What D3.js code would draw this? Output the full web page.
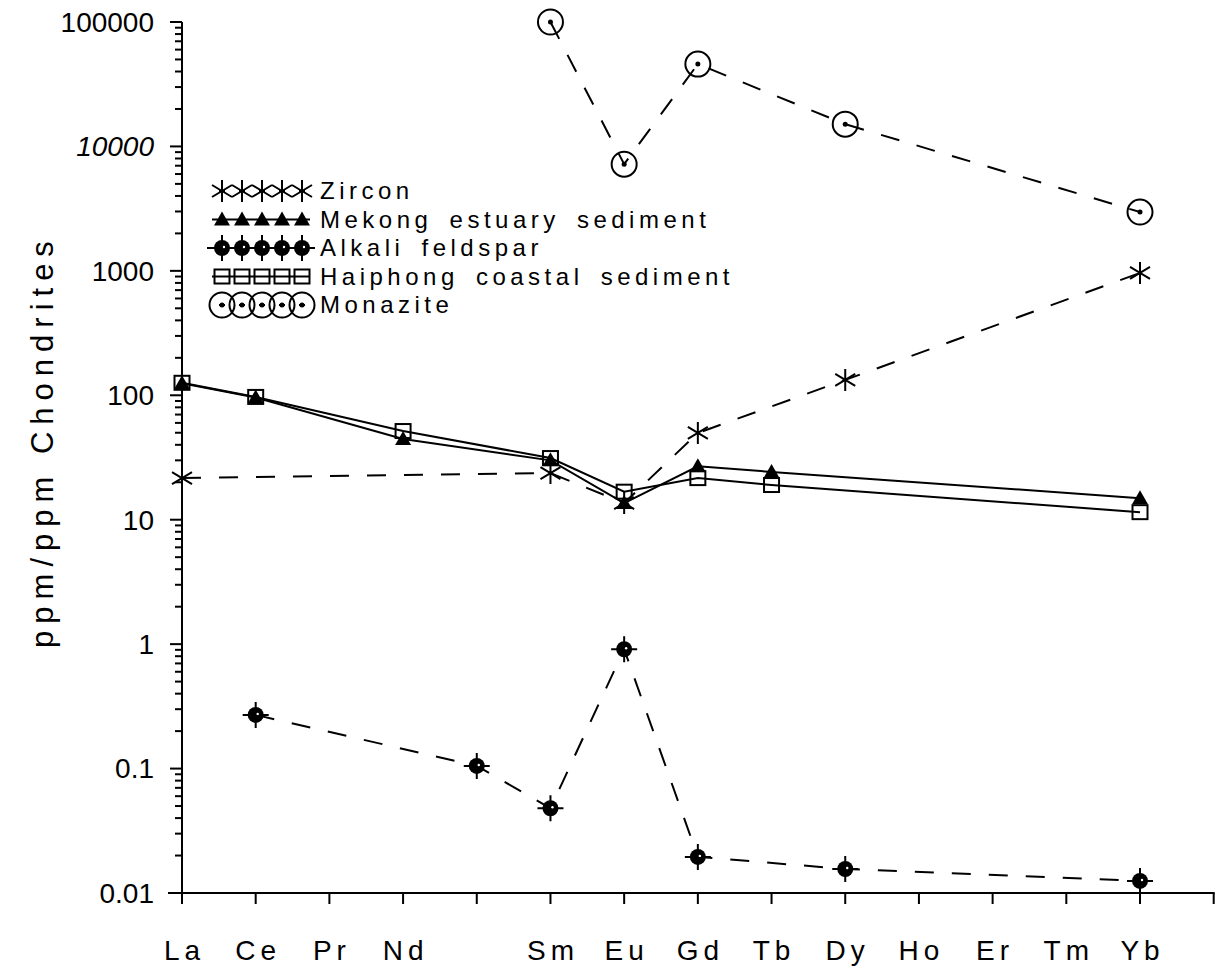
<!DOCTYPE html>
<html>
<head>
<meta charset="utf-8">
<script src="https://cdnjs.cloudflare.com/ajax/libs/d3/7.8.5/d3.min.js"></script>
<style>
  body { margin: 0; background: #fff; }
  text { font-family: "Liberation Sans", Arial, sans-serif; fill: #000; }
</style>
</head>
<body>
<div id="chart"></div>
<script>
// rare earth elements on the x axis (Pm and Lu have no label)
var elements = ["La", "Ce", "Pr", "Nd", "Pm", "Sm", "Eu", "Gd", "Tb", "Dy", "Ho", "Er", "Tm", "Yb", "Lu"];
var elementLabels = ["La", "Ce", "Pr", "Nd", "", "Sm", "Eu", "Gd", "Tb", "Dy", "Ho", "Er", "Tm", "Yb", ""];

// y axis decades
var yMajor = [0.01, 0.1, 1, 10, 100, 1000, 10000, 100000];
var yMajorLabels = ["0.01", "0.1", "1", "10", "100", "1000", "10000", "100000"];

// chondrite normalised values
var zirconData = [["La", 21.6], ["Sm", 23.7], ["Eu", 13.6], ["Gd", 49.8], ["Dy", 133], ["Yb", 962]];
var mekongData = [["La", 125], ["Ce", 96], ["Nd", 44.6], ["Sm", 30], ["Eu", 13.6], ["Gd", 26.9], ["Tb", 24.2], ["Yb", 14.9]];
var feldsparData = [["Ce", 0.27], ["Pm", 0.105], ["Sm", 0.048], ["Eu", 0.91], ["Gd", 0.0195], ["Dy", 0.0156], ["Yb", 0.0125]];
var haiphongData = [["La", 126], ["Ce", 97], ["Nd", 51.6], ["Sm", 31.3], ["Eu", 16.8], ["Gd", 21.6], ["Tb", 19], ["Yb", 11.5]];
var monaziteData = [["Sm", 100000], ["Eu", 7200], ["Gd", 45900], ["Dy", 15100], ["Yb", 2970]];

var seriesNames = ["Zircon", "Mekong estuary sediment", "Alkali feldspar", "Haiphong coastal sediment", "Monazite"];

var width = 1226, height = 971;
var margin = { top: 22, right: 12.3, bottom: 78, left: 182 };

var series = [
    { name: seriesNames[0], data: zirconData, marker: "asterisk", dashed: true },
    { name: seriesNames[1], data: mekongData, marker: "triangle", dashed: false },
    { name: seriesNames[2], data: feldsparData, marker: "dot", dashed: true },
    { name: seriesNames[3], data: haiphongData, marker: "square", dashed: false },
    { name: seriesNames[4], data: monaziteData, marker: "ring", dashed: true }
];

var svg = d3.select("#chart").append("svg")
    .attr("width", width)
    .attr("height", height);

var x = d3.scalePoint()
    .domain(elements)
    .range([margin.left, width - margin.right]);

var y = d3.scaleLog()
    .domain([0.01, 100000])
    .range([height - margin.bottom, margin.top]);

var y0 = height - margin.bottom;

// draws one marker shape into g
function drawMarker(g, type) {
    if (type == "asterisk") {
        g.append("path")
            .attr("d", "M0,-11V11M-10,-6L10,6M-10,6L10,-6")
            .attr("stroke", "#000").attr("stroke-width", 2).attr("fill", "none");
    }
    else if (type == "triangle") {
        g.append("path")
            .attr("d", "M0,-8L8,6L-8,6Z")
            .attr("fill", "#000");
    }
    else if (type == "square") {
        g.append("rect")
            .attr("x", -7.5).attr("y", -7).attr("width", 15).attr("height", 14)
            .attr("fill", "none").attr("stroke", "#000").attr("stroke-width", 2);
    }
    else if (type == "dot") {
        g.append("path")
            .attr("d", "M0,-13V13M-13,0H13")
            .attr("stroke", "#000").attr("stroke-width", 2);
        g.append("circle").attr("r", 8).attr("fill", "#000");
        g.append("circle").attr("cx", 2).attr("cy", -1).attr("r", 1.2).attr("fill", "#fff");
    }
    else if (type == "ring") {
        g.append("circle").attr("r", 12.5)
            .attr("fill", "none").attr("stroke", "#000").attr("stroke-width", 2);
        g.append("circle").attr("r", 2.5).attr("fill", "#000");
    }
}

// axes, ticks as plain rects
var yMinor = d3.merge(yMajor.slice(0, -1).map(function (d) {
    return d3.range(2, 10).map(function (k) { return d * k; });
}));

var axes = svg.append("g");

axes.append("rect")
    .attr("x", margin.left - 1).attr("y", y(100000))
    .attr("width", 2).attr("height", y0 - y(100000) + 1)
    .attr("fill", "#000");

axes.append("rect")
    .attr("x", margin.left - 14).attr("y", y0 - 1)
    .attr("width", x("Lu") - margin.left + 15).attr("height", 2)
    .attr("fill", "#000");

axes.selectAll(null)
    .data(yMajor)
    .enter().append("rect")
    .attr("x", margin.left - 12).attr("width", 12)
    .attr("y", function (d) { return y(d) - 1; }).attr("height", 2)
    .attr("fill", "#000");

axes.selectAll(null)
    .data(yMinor)
    .enter().append("rect")
    .attr("x", margin.left - 7).attr("width", 7)
    .attr("y", function (d) { return y(d) - 1; }).attr("height", 2)
    .attr("fill", "#000");

axes.selectAll(null)
    .data(elements)
    .enter().append("rect")
    .attr("x", function (d) { return x(d) - 1; }).attr("width", 2)
    .attr("y", y0).attr("height", 11)
    .attr("fill", "#000");

axes.selectAll(null)
    .data(yMajor)
    .enter().append("text")
    .attr("x", margin.left - 28)
    .attr("y", function (d) { return y(d); })
    .attr("dy", "0.35em")
    .attr("text-anchor", "end")
    .attr("font-size", 28)
    .attr("font-style", function (d) { return d == 10000 ? "italic" : null; })
    .text(function (d, i) { return yMajorLabels[i]; });

axes.selectAll(null)
    .data(elements)
    .enter().append("text")
    .attr("x", function (d) { return x(d) + 2.5; })
    .attr("y", y0 + 67)
    .attr("text-anchor", "middle")
    .attr("font-size", 28)
    .attr("letter-spacing", "5px")
    .text(function (d, i) { return elementLabels[i]; });

// series lines
var line = d3.line()
    .x(function (d) { return x(d[0]); })
    .y(function (d) { return y(d[1]); });

series.forEach(function (s) {
    svg.append("path")
        .attr("d", line(s.data))
        .attr("fill", "none")
        .attr("stroke", "#000")
        .attr("stroke-width", 2)
        .attr("stroke-dasharray", s.dashed ? "19,18" : null);
});

series.forEach(function (s) {
    svg.selectAll(null)
        .data(s.data)
        .enter()
        .append("g")
        .attr("transform", function (d) { return "translate(" + x(d[0]) + "," + y(d[1]) + ")"; })
        .each(function () { drawMarker(d3.select(this), s.marker); });
});

// legend
var legend = svg.append("g").attr("transform", "translate(212,191)");
series.forEach(function (s, i) {
    var row = legend.append("g").attr("transform", "translate(0," + (i * 28.5) + ")");
    row.append("line")
        .attr("x1", s.marker == "dot" ? -5 : 0).attr("x2", 98)
        .attr("stroke", "#000").attr("stroke-width", 2)
        .attr("stroke-dasharray", s.dashed && s.marker != "dot" ? "6,14" : null)
        .attr("stroke-dashoffset", -7);
    d3.range(5).forEach(function (k) {
        drawMarker(row.append("g").attr("transform", "translate(" + (10 + k * 20) + ",0)"), s.marker);
    });
    row.append("text")
        .attr("x", 108)
        .attr("dy", "0.35em")
        .attr("font-size", 24)
        .attr("letter-spacing", "4.5px")
        .attr("word-spacing", "6px")
        .text(s.name);
});

// y title
svg.append("text")
    .attr("transform", "translate(53,441) rotate(-90)")
    .attr("text-anchor", "middle")
    .attr("font-size", 31)
    .attr("letter-spacing", "7px")
    .text("ppm/ppm Chondrites");
</script>
</body>
</html>
